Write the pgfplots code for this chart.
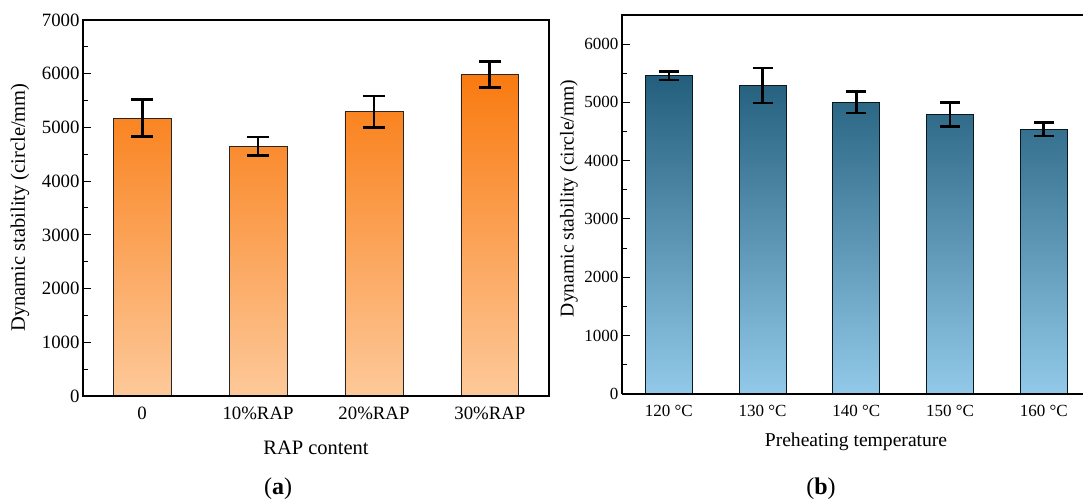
\documentclass[border=0pt]{standalone}
\usepackage{pgfplots}
\pgfplotsset{compat=1.18}
\usepackage{fontspec}
\setmainfont{Liberation Serif}
\definecolor{orTop}{HTML}{F97A10}
\definecolor{orMid}{HTML}{FA9D5E}
\definecolor{orBot}{HTML}{FDC99A}
\definecolor{blTop}{HTML}{235E7D}
\definecolor{blMid}{HTML}{558CAA}
\definecolor{blBot}{HTML}{92C9E8}
\pgfplotsset{
  myaxis/.style={
    scale only axis,
    axis line style={line width=1.1pt},
    tick align=inside,
    xtick pos=bottom, ytick pos=left,
    major tick length=8pt, minor tick length=5pt,
    every tick/.style={black, line width=1pt},
    minor y tick num=1,
    xtick={0,1,2,3,4},
    ymin=0,
    /pgf/number format/assume math mode=true,
    /pgf/number format/1000 sep={},
    clip=false,
  }
}
\begin{document}
\begin{tikzpicture}
\useasboundingbox (0pt,0pt) rectangle (1083pt,502pt);
% ---------- (a)
\begin{axis}[myaxis, at={(83pt,106pt)}, anchor=south west, width=466pt, height=376pt,
  xmin=-0.51, xmax=3.51, ymax=7000, ytick={0,1000,...,7000},
  xticklabels={0,10\%RAP,20\%RAP,30\%RAP},
  tick label style={font=\fontsize{18.8}{20}\selectfont},
  xticklabel style={anchor=base, yshift=-24pt},
]
\addplot[ybar, bar width=0.5, draw=black!85, line width=0.8pt,
  top color=orTop, middle color=orMid, bottom color=orBot] coordinates {(0,5170) (1,4650) (2,5290) (3,5980)};
\addplot[forget plot, draw=none, mark=none,
  error bars/.cd, y dir=both, y explicit,
  error bar style={draw=black, line width=2.8pt},
  error mark options={draw=black, rotate=90, mark size=11pt, line width=2.8pt}]
  coordinates {(0,5170) +- (0,345) (1,4650) +- (0,170) (2,5290) +- (0,295) (3,5980) +- (0,240)};
\draw[line width=2.6pt] (rel axis cs:0,0) -- (rel axis cs:1,0);
\end{axis}
% ---------- (b)
\begin{axis}[myaxis, at={(622pt,108.3pt)}, anchor=south west, width=463pt, height=378.7pt,
  xmin=-0.5, xmax=4.44, ymax=6500, ytick={0,1000,...,6000},
  xticklabels={120 °C,130 °C,140 °C,150 °C,160 °C},
  tick label style={font=\fontsize{17}{19}\selectfont},
  xticklabel style={anchor=base, yshift=-23.3pt},
]
\addplot[ybar, bar width=0.5, draw=black!75!blTop, line width=0.8pt,
  top color=blTop, middle color=blMid, bottom color=blBot] coordinates {(0,5460) (1,5290) (2,5000) (3,4790) (4,4540)};
\addplot[forget plot, draw=none, mark=none,
  error bars/.cd, y dir=both, y explicit,
  error bar style={draw=black, line width=2.6pt},
  error mark options={draw=black, rotate=90, mark size=10pt, line width=2.6pt}]
  coordinates {(0,5460) +- (0,75) (1,5290) +- (0,300) (2,5000) +- (0,185) (3,4790) +- (0,205) (4,4540) +- (0,117)};
\draw[line width=2pt] (rel axis cs:0,0) -- (rel axis cs:1,0);
\end{axis}
% labels
\node[rotate=90, anchor=center, font=\fontsize{20.5}{22}\selectfont] at (20pt,294.5pt) {Dynamic stability (circle/mm)};
\node[rotate=90, anchor=center, font=\fontsize{19.6}{21}\selectfont] at (569pt,303.5pt) {Dynamic stability (circle/mm)};
\node[anchor=base, font=\fontsize{20.5}{22}\selectfont] at (316pt,47pt) {RAP content};
\node[anchor=base, font=\fontsize{19.6}{21}\selectfont] at (856pt,55pt) {Preheating temperature};
\node[anchor=base, font=\fontsize{24}{26}\selectfont] at (278pt,7pt) {(\textbf{a})};
\node[anchor=base, font=\fontsize{24}{26}\selectfont] at (821pt,7pt) {(\textbf{b})};
\end{tikzpicture}
\end{document}
